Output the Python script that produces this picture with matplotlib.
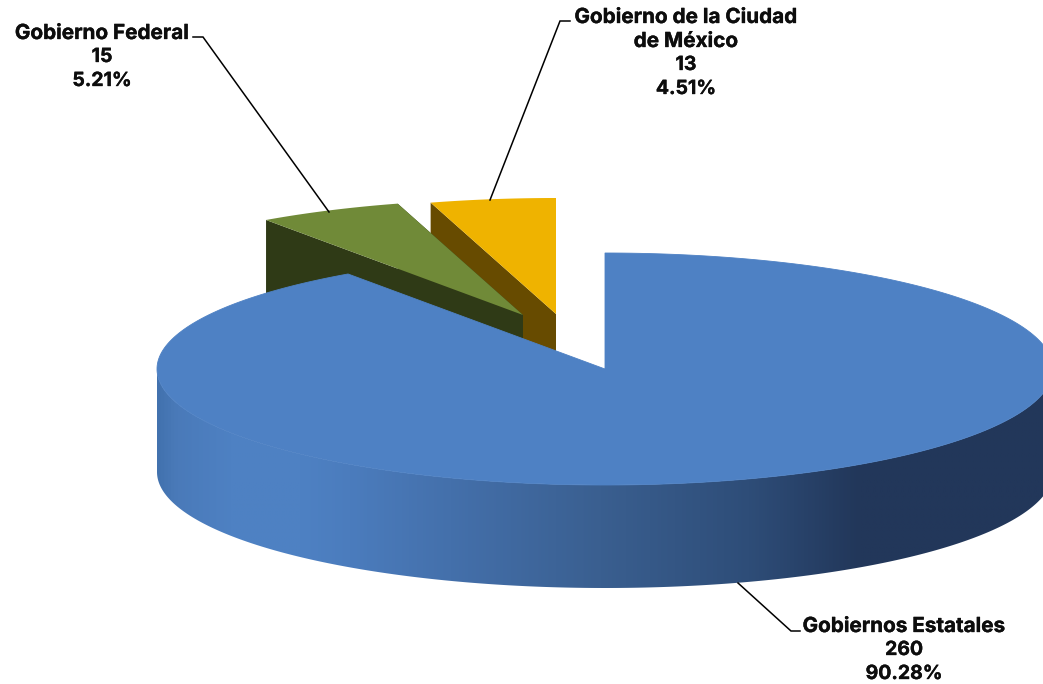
import numpy as np
import matplotlib.pyplot as plt
import matplotlib.patheffects as pe
from matplotlib.colors import LinearSegmentedColormap
from matplotlib.patches import PathPatch, Polygon
from matplotlib.path import Path

# data, clockwise from 12 o'clock
categories = ["Gobiernos Estatales", "Gobierno Federal", "Gobierno de la Ciudad\nde México"]
counts = [260, 15, 13]
top_colors = ["#4e81c4", "#708a38", "#efb300"]
wall_colors = ["#22375a", "#2f3a16", "#674b00"]

# pie geometry in pixels
rx, ry, depth = 448, 116, 103
centers = [(605, 369), (523, 315), (556, 314)]
label_pos = [(904, 626), (102, 33), (686, 17)]
leaders = [
    [(738, 583), (791, 631), (800, 631)],
    [(193, 37), (203, 37), (329, 212)],
    [(490, 200), (560, 21), (570, 21)],
]

# shading of the front wall of the big slice
grad_x = [157, 175, 230, 300, 350, 450, 600, 750, 860, 1053]
grad_c = ["#4272ae", "#4a7ab9", "#4e81c3", "#4e81c3", "#4b7cbd", "#4470ab",
          "#3a5f90", "#2e4d78", "#22375a", "#22375a"]

plt.rcParams["font.family"] = ["Inter", "Noto Sans", "DejaVu Sans"]
fig = plt.figure(figsize=(10.43, 6.84), dpi=100)
ax = fig.add_axes([0, 0, 1, 1])
ax.set_xlim(0, 1043)
ax.set_ylim(684, 0)
ax.axis("off")


def arc(cx, cy, a0, a1, dy=0):
    t = np.radians(np.linspace(a0, a1, 300))
    return np.column_stack([cx + rx * np.sin(t), cy - ry * np.cos(t) + dy])


total = sum(counts)
edges = np.concatenate([[0], np.cumsum(counts)]) / total * 360

# the two exploded slices go first, the big one covers them
for i in [2, 1]:
    cx, cy = centers[i]
    a0, a1 = edges[i], edges[i + 1]
    for a in [a0, a1]:
        rim = arc(cx, cy, a, a, 0)[0]
        wall = [(cx, cy), tuple(rim), (rim[0], rim[1] + depth), (cx, cy + depth)]
        ax.add_patch(Polygon(wall, closed=True, fc=wall_colors[i], ec="none", zorder=2 + (2 - i)))
    top = np.vstack([[(cx, cy)], arc(cx, cy, a0, a1)])
    ax.add_patch(Polygon(top, closed=True, fc=top_colors[i], ec="none", zorder=2 + (2 - i)))

# big slice, wall with a horizontal gradient
cx, cy = centers[0]
front_top = arc(cx, cy, 90, 270)
front_bot = arc(cx, cy, 270, 90, dy=depth)
verts = np.vstack([front_top, front_bot, front_top[:1]])
codes = [Path.MOVETO] + [Path.LINETO] * (len(verts) - 2) + [Path.CLOSEPOLY]
wall_patch = PathPatch(Path(verts, codes), fc="none", ec="none", zorder=6)
ax.add_patch(wall_patch)

stops = [(x - grad_x[0]) / (grad_x[-1] - grad_x[0]) for x in grad_x]
cmap = LinearSegmentedColormap.from_list("wall", list(zip(stops, grad_c)))
im = ax.imshow(
    np.linspace(0, 1, 512).reshape(1, -1),
    cmap=cmap,
    extent=[grad_x[0], grad_x[-1], 600, 360],
    aspect="auto",
    zorder=6,
)
im.set_clip_path(wall_patch)
ax.set_xlim(0, 1043)
ax.set_ylim(684, 0)

# thin edge of the same colour hides the seam against the wall
top = np.vstack([[(cx, cy)], arc(cx, cy, edges[0], edges[1])])
ax.add_patch(Polygon(top, closed=True, fc=top_colors[0], ec=top_colors[0], lw=0.6, zorder=7))

# leader lines and labels
for pts in leaders:
    xs, ys = zip(*pts)
    ax.plot(xs, ys, color="black", lw=1.1, zorder=8, solid_joinstyle="miter")

for name, n, (x, y) in zip(categories, counts, label_pos):
    names = name.split("\n")
    numbers = [str(n), f"{n / total * 100:.2f}%"]
    for k, line in enumerate(names + numbers):
        # digits of Inter run wide, so the number lines are set a bit smaller
        size = 14.9 if k < len(names) else 14.0
        t = ax.text(x, y + 24 * k, line, ha="center", va="center", fontsize=size,
                    fontweight="bold", color="#0d0d0d", zorder=9)
        # Inter bold is a little lighter than the original face
        t.set_path_effects([pe.withStroke(linewidth=0.25, foreground="#0d0d0d")])

fig.savefig("out.png", dpi=100)
